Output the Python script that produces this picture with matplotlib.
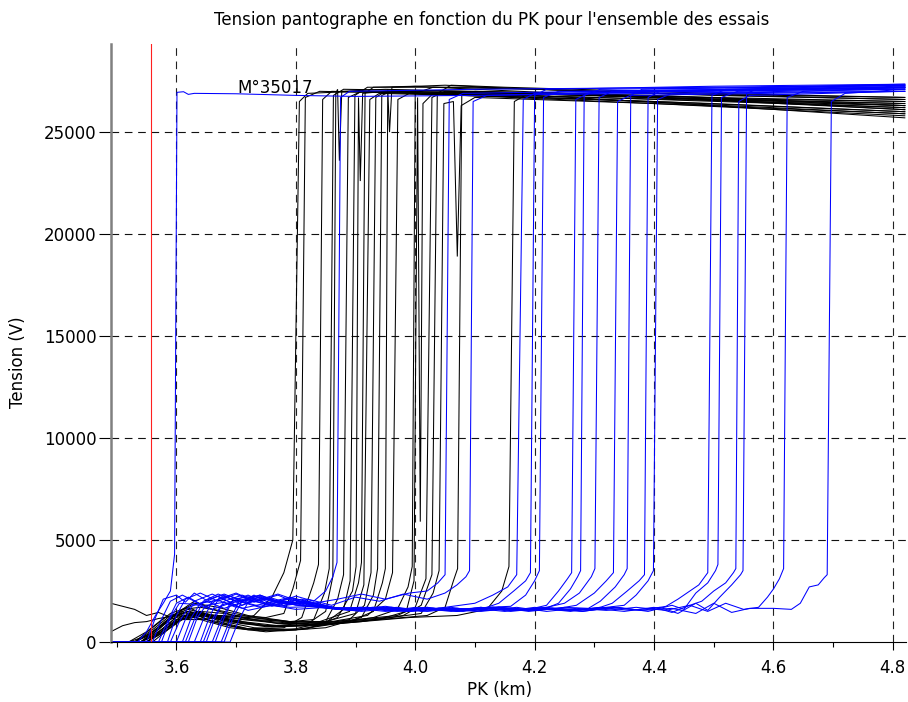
import matplotlib
matplotlib.use("Agg")
import matplotlib.pyplot as plt
from matplotlib.ticker import MultipleLocator

plt.rcParams['font.family'] = ['DejaVu Sans']
plt.rcParams['lines.scale_dashes'] = False

# ---------------- data: black traces (PK km, Tension V) ----------------
B01 = [(3.49,0),(3.53,0),(3.56,500),(3.59,1200),(3.62,1500),(3.66,1200),(3.70,1000),(3.73,1300),(3.76,2200),(3.78,3400),(3.795,5000),(3.806,26500),(3.82,26900),(3.9,27000),(4.1,26800),(4.4,26500),(4.82,26000)]
B02 = [(3.49,1900),(3.51,1750),(3.53,1600),(3.55,1300),(3.57,1450),(3.60,1100),(3.64,1100),(3.70,1300),(3.75,1200),(3.78,1400),(3.795,2600),(3.808,4000),(3.816,26700),(3.84,27000),(4.0,26900),(4.3,26700),(4.82,26300)]
B03 = [(3.49,500),(3.51,800),(3.53,950),(3.55,1000),(3.57,1150),(3.60,1300),(3.63,1200),(3.67,1000),(3.72,650),(3.78,700),(3.81,1200),(3.83,2900),(3.838,3800),(3.845,26600),(3.86,27000),(4.0,26900),(4.4,26400),(4.82,25800)]
B04 = [(3.49,0),(3.52,0),(3.55,300),(3.58,900),(3.61,1600),(3.64,1700),(3.68,1500),(3.73,1200),(3.79,1000),(3.83,1100),(3.848,2400),(3.856,3600),(3.863,26800),(3.88,27100),(4.1,27000),(4.5,26700),(4.82,26500)]
B05 = [(3.49,0),(3.54,0),(3.57,600),(3.60,1400),(3.63,2000),(3.66,1600),(3.71,1200),(3.77,900),(3.82,900),(3.85,1500),(3.862,3200),(3.867,26900),(3.870,27100),(3.873,23600),(3.877,27000),(3.95,27100),(4.2,26900),(4.5,26600),(4.82,26400)]
B06 = [(3.49,0),(3.53,0),(3.56,700),(3.59,1400),(3.62,1700),(3.65,1300),(3.69,800),(3.74,550),(3.80,650),(3.85,1000),(3.87,2100),(3.88,3300),(3.888,26700),(3.91,27000),(4.2,26800),(4.5,26300),(4.82,25700)]
B07 = [(3.49,0),(3.54,0),(3.57,400),(3.60,1000),(3.64,1500),(3.68,1400),(3.73,1100),(3.79,1000),(3.85,950),(3.88,1600),(3.891,3000),(3.899,26800),(3.92,27200),(4.1,27200),(4.4,26900),(4.82,26600)]
B08 = [(3.49,0),(3.55,0),(3.58,700),(3.61,1500),(3.64,1100),(3.69,700),(3.75,500),(3.82,650),(3.87,1200),(3.895,2500),(3.901,3700),(3.905,26700),(3.908,22600),(3.912,26900),(3.95,27000),(4.3,26800),(4.82,26200)]
B09 = [(3.49,0),(3.52,0),(3.55,500),(3.58,1200),(3.62,1500),(3.66,1300),(3.71,1000),(3.77,800),(3.84,1000),(3.89,1500),(3.905,2900),(3.91,3900),(3.916,26900),(3.93,27200),(4.0,27250),(4.1,27100),(4.4,26700),(4.82,26100)]
B10 = [(3.49,0),(3.54,0),(3.57,500),(3.60,1200),(3.63,1400),(3.67,1300),(3.72,1100),(3.78,950),(3.85,1000),(3.90,1400),(3.914,2800),(3.924,26600),(3.94,26900),(4.2,26700),(4.5,26400),(4.82,26000)]
B11 = [(3.49,0),(3.55,0),(3.58,500),(3.61,1100),(3.65,1300),(3.70,1000),(3.76,750),(3.83,850),(3.89,1100),(3.915,1800),(3.926,3400),(3.934,26700),(3.95,27000),(4.2,26900),(4.6,26600),(4.82,26500)]
B12 = [(3.49,0),(3.53,0),(3.56,400),(3.59,1100),(3.62,1500),(3.66,1000),(3.71,650),(3.78,550),(3.85,700),(3.91,1200),(3.93,2300),(3.937,3600),(3.944,26800),(3.96,27000),(4.3,26800),(4.82,26300)]
B13 = [(3.49,0),(3.55,0),(3.58,600),(3.61,1300),(3.65,1400),(3.69,1100),(3.75,800),(3.82,850),(3.89,1000),(3.93,1500),(3.945,2900),(3.95,3600),(3.954,27100),(3.957,25000),(3.961,27200),(4.05,27300),(4.12,27200),(4.4,26900),(4.82,26700)]
B14 = [(3.49,0),(3.54,0),(3.57,700),(3.60,1400),(3.63,1900),(3.67,1700),(3.72,1300),(3.79,1000),(3.86,1000),(3.92,1300),(3.95,2100),(3.962,3400),(3.971,26600),(3.99,26900),(4.3,26600),(4.82,25900)]
B15 = [(3.49,0),(3.53,0),(3.56,600),(3.59,1300),(3.62,1600),(3.66,1300),(3.71,900),(3.78,750),(3.86,900),(3.93,1200),(3.97,1600),(3.988,2700),(3.995,3700),(4.0,26900),(4.03,27200),(4.2,27100),(4.5,26800),(4.82,26600)]
B16 = [(3.49,0),(3.55,0),(3.58,500),(3.61,1200),(3.64,1500),(3.68,1000),(3.73,700),(3.80,600),(3.88,1000),(3.95,1200),(3.985,1500),(3.998,3000),(4.004,26700),(4.0085,5900),(4.013,26400),(4.03,26900),(4.3,26700),(4.82,26200)]
B17 = [(3.49,0),(3.54,0),(3.57,400),(3.60,1000),(3.63,1300),(3.68,1300),(3.74,1150),(3.82,850),(3.90,1100),(3.97,1300),(4.00,1700),(4.018,3100),(4.028,26700),(4.05,27000),(4.4,26700),(4.82,26400)]
B18 = [(3.49,0),(3.55,0),(3.58,600),(3.61,1300),(3.64,1300),(3.69,1000),(3.75,750),(3.83,800),(3.91,1000),(3.98,1300),(4.01,1800),(4.028,3300),(4.037,26900),(4.06,27300),(4.15,27200),(4.5,26900),(4.82,26700)]
B19 = [(3.49,0),(3.53,0),(3.56,500),(3.59,1200),(3.62,1500),(3.66,1000),(3.72,600),(3.80,600),(3.88,950),(3.96,1200),(4.01,1400),(4.03,2400),(4.04,3500),(4.048,26400),(4.064,26500),(4.0705,18900),(4.077,26300),(4.1,26700),(4.4,26400),(4.82,25900)]
B20 = [(3.49,0),(3.56,0),(3.59,700),(3.62,1400),(3.66,1300),(3.71,1100),(3.78,900),(3.86,900),(3.94,1100),(4.02,1300),(4.05,1700),(4.064,3000),(4.071,3600),(4.078,26800),(4.1,27000),(4.4,26800),(4.82,26300)]
B21 = [(3.49,0),(3.54,0),(3.57,500),(3.60,1100),(3.64,1300),(3.69,1000),(3.75,800),(3.83,800),(3.91,1000),(3.99,1200),(4.07,1300),(4.12,1600),(4.145,2500),(4.157,3700),(4.166,26500),(4.19,26900),(4.5,26600),(4.82,26100)]

# ---------------- data: blue traces ----------------
L01 = [(3.49,0),(3.535,0),(3.55,500),(3.565,1300),(3.578,1900),(3.59,2500),(3.597,4300),(3.601,26950),(3.612,26980),(3.62,26850),(3.63,26900),(3.70,26880),(3.80,26800),(3.9,26750),(4.1,26800),(4.4,26900),(4.82,27000)]
L02 = [(3.49,0),(3.55,0),(3.565,1200),(3.578,2100),(3.60,2300),(3.615,1950),(3.63,2400),(3.65,2050),(3.68,2350),(3.71,2000),(3.74,2300),(3.77,1950),(3.80,2250),(3.83,2000),(3.85,2500),(3.862,3200),(3.869,3900),(3.875,26700),(3.89,27000),(4.1,27100),(4.5,27200),(4.82,27300)]
L03 = [(3.49,0),(3.56,0),(3.575,1100),(3.59,2000),(3.61,2300),(3.64,1850),(3.67,2250),(3.70,1800),(3.73,2300),(3.76,1850),(3.79,2200),(3.83,1900),(3.87,2100),(3.91,2350),(3.95,2100),(3.99,2400),(4.02,2500),(4.038,2900),(4.05,3300),(4.057,26600),(4.08,26900),(4.3,27000),(4.82,27200)]
L04 = [(3.49,0),(3.57,0),(3.585,1000),(3.60,1900),(3.62,2200),(3.65,1700),(3.68,2300),(3.71,1800),(3.74,2250),(3.78,1800),(3.82,2100),(3.86,1800),(3.90,2200),(3.94,2000),(3.98,2350),(4.02,2100),(4.05,2400),(4.07,2800),(4.085,3200),(4.091,3500),(4.097,26500),(4.12,26800),(4.4,27000),(4.82,27100)]
L05 = [(3.49,0),(3.575,0),(3.59,1200),(3.605,1900),(3.63,1850),(3.66,1600),(3.69,1900),(3.72,1550),(3.76,1800),(3.80,1600),(3.85,1700),(3.90,1600),(3.95,1750),(4.00,1550),(4.05,1700),(4.10,1900),(4.13,2300),(4.155,2700),(4.17,3300),(4.181,26600),(4.20,26900),(4.5,27000),(4.82,27200)]
L06 = [(3.49,0),(3.585,0),(3.60,1300),(3.615,2100),(3.64,2400),(3.67,2000),(3.70,2350),(3.73,1950),(3.77,2300),(3.81,1800),(3.86,1650),(3.91,1550),(3.96,1700),(4.01,1500),(4.06,1650),(4.11,1600),(4.14,1900),(4.165,2500),(4.185,3000),(4.193,3400),(4.2,26800),(4.22,27100),(4.5,27250),(4.82,27350)]
L07 = [(3.49,0),(3.59,0),(3.605,1000),(3.62,1700),(3.65,2000),(3.68,1650),(3.71,1950),(3.74,1700),(3.78,1900),(3.82,1750),(3.87,1600),(3.92,1700),(3.97,1500),(4.02,1650),(4.07,1550),(4.12,1700),(4.16,1750),(4.185,2300),(4.20,3000),(4.208,3500),(4.215,26700),(4.24,27000),(4.6,27100),(4.82,27150)]
L08 = [(3.49,0),(3.60,0),(3.615,1100),(3.63,2000),(3.66,2350),(3.69,1950),(3.72,2300),(3.75,1900),(3.79,2100),(3.84,1700),(3.89,1550),(3.94,1700),(3.99,1500),(4.04,1650),(4.09,1550),(4.14,1700),(4.19,1600),(4.22,1800),(4.24,2500),(4.255,3100),(4.262,3400),(4.269,26600),(4.29,26900),(4.6,27100),(4.82,27200)]
L09 = [(3.49,0),(3.61,0),(3.625,1200),(3.64,1900),(3.67,2050),(3.70,1700),(3.73,2000),(3.77,1750),(3.81,1900),(3.86,1650),(3.91,1500),(3.96,1650),(4.01,1550),(4.06,1700),(4.11,1500),(4.16,1650),(4.21,1550),(4.24,1900),(4.26,2600),(4.272,3200),(4.277,3500),(4.283,26800),(4.31,27100),(4.6,27200),(4.82,27300)]
L10 = [(3.49,0),(3.615,0),(3.63,1100),(3.645,2000),(3.67,2350),(3.70,2000),(3.74,2300),(3.78,1900),(3.82,2000),(3.87,1600),(3.92,1700),(3.97,1550),(4.02,1700),(4.07,1500),(4.12,1650),(4.17,1550),(4.22,1700),(4.25,1900),(4.275,2400),(4.295,3200),(4.301,3600),(4.308,26700),(4.33,27000),(4.82,27250)]
L11 = [(3.49,0),(3.62,0),(3.635,1200),(3.65,1800),(3.68,1950),(3.71,1650),(3.75,1900),(3.79,1700),(3.84,1750),(3.89,1600),(3.94,1700),(3.99,1500),(4.04,1650),(4.09,1550),(4.14,1700),(4.19,1550),(4.24,1650),(4.27,1800),(4.30,2400),(4.32,3000),(4.332,3400),(4.339,26500),(4.36,26800),(4.82,27000)]
L12 = [(3.49,0),(3.63,0),(3.645,1100),(3.66,2000),(3.69,2250),(3.72,1950),(3.76,2150),(3.80,1800),(3.85,1700),(3.90,1550),(3.95,1700),(4.00,1550),(4.05,1650),(4.10,1500),(4.15,1650),(4.20,1550),(4.25,1700),(4.29,1650),(4.31,2000),(4.335,2700),(4.35,3300),(4.355,3600),(4.361,26800),(4.38,27100),(4.82,27300)]
L13 = [(3.49,0),(3.64,0),(3.655,1200),(3.67,2100),(3.70,2400),(3.73,2000),(3.77,2350),(3.81,1950),(3.86,1650),(3.91,1700),(3.96,1500),(4.01,1650),(4.06,1550),(4.11,1700),(4.16,1500),(4.21,1650),(4.26,1550),(4.31,1700),(4.33,1900),(4.355,2500),(4.375,3000),(4.384,3300),(4.39,26700),(4.41,27000),(4.82,27200)]
L14 = [(3.49,0),(3.645,0),(3.66,1100),(3.675,1800),(3.70,2050),(3.74,1750),(3.78,2000),(3.82,1800),(3.87,1600),(3.92,1700),(3.97,1550),(4.02,1700),(4.07,1500),(4.12,1650),(4.17,1550),(4.22,1700),(4.27,1550),(4.32,1700),(4.35,1800),(4.37,2300),(4.39,3000),(4.399,3500),(4.406,26600),(4.43,26900),(4.82,27100)]
L15 = [(3.49,0),(3.65,0),(3.665,1200),(3.68,2000),(3.71,2300),(3.75,1900),(3.79,2200),(3.83,1750),(3.88,1600),(3.93,1700),(3.98,1500),(4.03,1650),(4.08,1550),(4.13,1700),(4.18,1550),(4.23,1650),(4.28,1500),(4.33,1700),(4.38,1550),(4.42,1750),(4.44,2100),(4.46,2500),(4.475,2800),(4.485,3200),(4.49,3400),(4.497,26800),(4.52,27100),(4.82,27300)]
L16 = [(3.49,0),(3.66,0),(3.675,1100),(3.69,1900),(3.72,2100),(3.76,1750),(3.80,2050),(3.84,1750),(3.89,1600),(3.94,1700),(3.99,1500),(4.04,1650),(4.09,1550),(4.14,1700),(4.19,1500),(4.24,1650),(4.29,1550),(4.34,1700),(4.39,1500),(4.43,1800),(4.45,1600),(4.47,2400),(4.49,2900),(4.503,3500),(4.507,3800),(4.513,26700),(4.54,27000),(4.82,27200)]
L17 = [(3.49,0),(3.665,0),(3.68,1200),(3.695,2100),(3.73,2250),(3.77,1900),(3.81,2100),(3.85,1700),(3.90,1650),(3.95,1500),(4.00,1700),(4.05,1550),(4.10,1650),(4.15,1500),(4.20,1700),(4.25,1550),(4.30,1650),(4.35,1500),(4.40,1700),(4.43,1450),(4.46,1800),(4.48,2000),(4.50,2500),(4.52,2900),(4.533,3400),(4.537,3600),(4.542,26500),(4.56,26800),(4.82,27000)]
L18 = [(3.49,0),(3.675,0),(3.69,1100),(3.705,2000),(3.74,2200),(3.78,1900),(3.82,1950),(3.86,1650),(3.91,1700),(3.96,1550),(4.01,1650),(4.06,1500),(4.11,1700),(4.16,1550),(4.21,1650),(4.26,1500),(4.31,1700),(4.36,1550),(4.41,1700),(4.44,1400),(4.47,1900),(4.49,1550),(4.51,2200),(4.53,2800),(4.545,3300),(4.549,3500),(4.555,26900),(4.58,27200),(4.82,27350)]
L19 = [(3.49,0),(3.68,0),(3.695,1200),(3.71,2000),(3.745,2150),(3.785,1850),(3.825,1950),(3.87,1650),(3.92,1600),(3.97,1700),(4.02,1500),(4.07,1650),(4.12,1550),(4.17,1700),(4.22,1500),(4.27,1650),(4.32,1550),(4.37,1700),(4.42,1550),(4.46,1800),(4.49,1500),(4.52,1900),(4.55,1600),(4.575,1700),(4.59,2200),(4.60,2600),(4.61,3100),(4.617,3600),(4.623,26700),(4.65,27000),(4.82,27200)]
L20 = [(3.49,0),(3.69,0),(3.705,1100),(3.72,1950),(3.755,2100),(3.795,1850),(3.835,1900),(3.88,1600),(3.93,1700),(3.98,1550),(4.03,1650),(4.08,1500),(4.13,1700),(4.18,1550),(4.23,1650),(4.28,1500),(4.33,1700),(4.38,1550),(4.43,1650),(4.47,1400),(4.50,1900),(4.53,1450),(4.56,1650),(4.60,1650),(4.63,1600),(4.645,1900),(4.66,2700),(4.675,2800),(4.685,3150),(4.69,3300),(4.697,26500),(4.72,26900),(4.82,27100)]

black_traces = [B01,B02,B03,B04,B05,B06,B07,B08,B09,B10,B11,B12,B13,B14,B15,B16,B17,B18,B19,B20,B21]
blue_traces = [L01,L02,L03,L04,L05,L06,L07,L08,L09,L10,L11,L12,L13,L14,L15,L16,L17,L18,L19,L20]

x_ticks = [3.6, 3.8, 4.0, 4.2, 4.4, 4.6, 4.8]
y_ticks = [0, 5000, 10000, 15000, 20000, 25000]
marker_red_pk = 3.558
annot_text = "M°35017"
annot_pk, annot_v = 3.7016, 26912
title = "Tension pantographe en fonction du PK pour l'ensemble des essais"
xlabel = "PK (km)"
ylabel = "Tension (V)"

# ---------------- figure ----------------
W, H = 908, 702
fig = plt.figure(figsize=(W/100, H/100), dpi=100)
ax = fig.add_axes([111/W, 1-642/H, (906-111)/W, (642-44)/H])
ax.set_xlim(3.4905, 4.822)
ax.set_ylim(0, 29320)

for tr in black_traces:
    xs = [p[0] for p in tr]; ys = [p[1] for p in tr]
    ax.plot(xs, ys, color='black', lw=0.75, solid_joinstyle='miter')
for tr in blue_traces:
    xs = [p[0] for p in tr]; ys = [p[1] for p in tr]
    ax.plot(xs, ys, color='#0000ff', lw=0.75, solid_joinstyle='miter')

ax.axvline(marker_red_pk, color='#ff2020', lw=0.8)

for x in x_ticks:
    ax.axvline(x, color='#222222', lw=0.8, linestyle=(0, (5.5, 4.1)), zorder=0.5)
for y in y_ticks[1:]:
    ax.axhline(y, color='#111111', lw=0.8, linestyle=(0, (5.5, 4.1)), zorder=0.5)

ax.text(annot_pk, annot_v, annot_text, fontsize=12, va='baseline', ha='left')

ax.set_xticks(x_ticks)
ax.set_xticklabels([f"{x:.1f}" for x in x_ticks])
ax.xaxis.set_minor_locator(MultipleLocator(0.1))
ax.set_yticks(y_ticks)
ax.set_yticklabels([str(y) for y in y_ticks])
ax.tick_params(axis='x', which='major', direction='out', length=6, width=0.8, labelsize=12, pad=6)
ax.tick_params(axis='x', which='minor', direction='out', length=3.5, width=0.8)
ax.tick_params(axis='y', which='major', direction='out', length=8.5, width=0.8, labelsize=12, pad=2)

for s in ['top', 'right']:
    ax.spines[s].set_visible(False)
ax.spines['bottom'].set_linewidth(0.8)
ax.spines['left'].set_color('#808080')
ax.spines['left'].set_linewidth(1.8)

fig.text(492/W, 1-20/H, title, ha='center', va='center', fontsize=12)
fig.text(500/W, 1-690/H, xlabel, ha='center', va='center', fontsize=12)
fig.text(18/W, 1-362/H, ylabel, ha='center', va='center', rotation=90, fontsize=12)

fig.savefig("out.png", dpi=100)
